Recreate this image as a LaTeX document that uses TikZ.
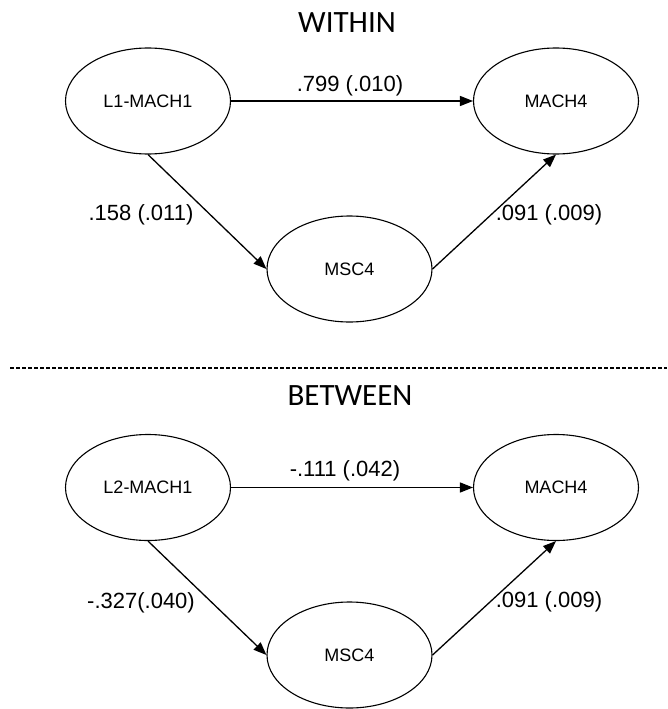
\documentclass[tikz,border=0pt]{standalone}
\usepackage{fontspec}
\setmainfont{Liberation Sans}
\newfontfamily\titlefont{Carlito}
\usetikzlibrary{arrows.meta,shapes.geometric}
\begin{document}
\begin{tikzpicture}[x=1pt,y=-1pt,
  latent/.style={ellipse, draw, line width=1.1pt, minimum width=165pt,
    minimum height=106pt, inner sep=0pt, font=\fontsize{18}{20}\selectfont},
  regpath/.style={line width=1.3pt, -{Triangle[length=13pt,width=10pt]}},
  coef/.style={anchor=base, inner sep=0pt, font=\fontsize{22}{24}\selectfont},
  heading/.style={anchor=base, inner sep=0pt, font=\titlefont\fontsize{31}{34}\selectfont},
  separator/.style={line width=1.1pt, dash pattern=on 4pt off 2pt}]

\fill[white] (0,0) rectangle (667,709);
\useasboundingbox (0,0) rectangle (667,709);

% ---- within level ----
\node[heading] (within) at (347,33) {WITHIN};
\node[latent] (wx) at (148,101) {L1-MACH1};
\node[latent] (wy) at (556,101) {MACH4};
\node[latent] (wm) at (349.5,269) {MSC4};

\draw[regpath] (wx) -- (wy);
\draw[regpath] (wx.south) -- (wm.west);
\draw[regpath] (wm.east) -- (wy.south);

\node[coef] (wxy) at (350,91) {.799 (.010)};
\node[coef] (wxm) at (141,220) {.158 (.011)};
\node[coef] (wmy) at (549,220) {.091 (.009)};

% ---- separator ----
\coordinate (sepL) at (10,368);
\coordinate (sepR) at (667,368);
\draw[separator] (sepL) -- (sepR);

% ---- between level ----
\node[heading] (between) at (350,405) {BETWEEN};
\node[latent] (bx) at (148,487.5) {L2-MACH1};
\node[latent] (by) at (556,487.5) {MACH4};
\node[latent] (bm) at (349.5,655) {MSC4};

\draw[regpath] (bx) -- (by);
\draw[regpath] (bx.south) -- (bm.west);
\draw[regpath] (bm.east) -- (by.south);

\node[coef] (bxy) at (345,476) {-.111 (.042)};
\node[coef] (bxm) at (141,608) {-.327(.040)};
\node[coef] (bmy) at (549,607) {.091 (.009)};
\end{tikzpicture}
\end{document}
